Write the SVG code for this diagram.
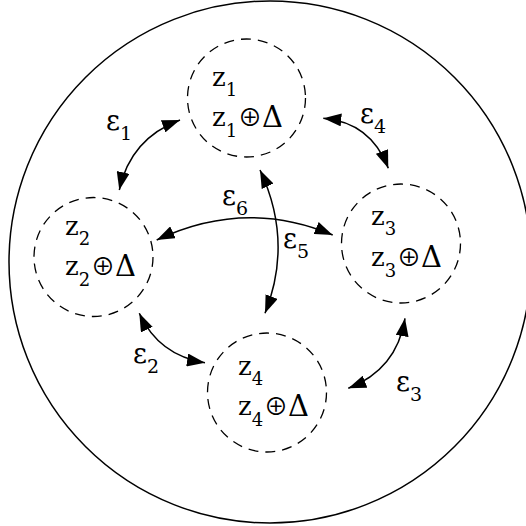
<svg xmlns="http://www.w3.org/2000/svg" width="526" height="526" viewBox="0 0 526 526">
<defs>
<style>
.outer{fill:none;stroke:#000;stroke-width:1.5}
.node{fill:none;stroke:#000;stroke-width:1.3;stroke-dasharray:10 7}
.c{fill:none;stroke:#000;stroke-width:1.5;marker-start:url(#ah);marker-end:url(#ah)}
.op{font-family:"Noto Sans CJK JP","DejaVu Sans",sans-serif;font-size:24px}
</style>
<marker id="ah" markerUnits="userSpaceOnUse" viewBox="0 0 18 13" refX="18" refY="6.5" markerWidth="18" markerHeight="13" orient="auto-start-reverse">
<path d="M0,0 L18,6.5 L0,13 z" fill="#000"/>
</marker>
</defs>
<rect width="526" height="526" fill="#fff"/>
<circle class="outer" cx="270" cy="262" r="261"/>
<g id="node1" font-family="DejaVu Serif, Liberation Serif, serif" font-size="26" fill="#000">
<circle class="node" cx="246.5" cy="98" r="59"/>
<text x="212" y="86">z<tspan font-size="18" dy="10">1</tspan></text>
<text x="212" y="126">z<tspan font-size="18" dy="11">1</tspan></text>
<text class="op" x="238" y="126">⊕</text>
<text x="262" y="127" font-size="29">Δ</text>
</g>
<g id="node2" font-family="DejaVu Serif, Liberation Serif, serif" font-size="26" fill="#000">
<circle class="node" cx="93.5" cy="257" r="59.5"/>
<text x="65" y="235">z<tspan font-size="18" dy="10">2</tspan></text>
<text x="65" y="275">z<tspan font-size="18" dy="11">2</tspan></text>
<text class="op" x="91" y="275">⊕</text>
<text x="115" y="276" font-size="29">Δ</text>
</g>
<g id="node3" font-family="DejaVu Serif, Liberation Serif, serif" font-size="26" fill="#000">
<circle class="node" cx="401" cy="243.5" r="59.5"/>
<text x="371" y="225">z<tspan font-size="18" dy="10">3</tspan></text>
<text x="371" y="266">z<tspan font-size="18" dy="11">3</tspan></text>
<text class="op" x="397" y="266">⊕</text>
<text x="421" y="267" font-size="29">Δ</text>
</g>
<g id="node4" font-family="DejaVu Serif, Liberation Serif, serif" font-size="26" fill="#000">
<circle class="node" cx="267" cy="392.5" r="59.5"/>
<text x="238" y="375">z<tspan font-size="18" dy="10">4</tspan></text>
<text x="238" y="415">z<tspan font-size="18" dy="11">4</tspan></text>
<text class="op" x="264" y="415">⊕</text>
<text x="288" y="416" font-size="29">Δ</text>
</g>
<g id="connectors">
<path class="c" d="M180,120 Q130.5,138.4 119.3,190"/>
<path class="c" d="M323.3,118.3 Q371,122.5 388.3,168.3"/>
<path class="c" d="M156.7,240 Q245,198 332.7,235"/>
<path class="c" d="M260,170 Q293.5,241.5 265,313.3"/>
<path class="c" d="M139.3,313.3 Q158.8,355.6 205,362.7"/>
<path class="c" d="M405,318.3 Q396.8,369.4 348.3,388.3"/>
</g>
<g id="labels" font-family="DejaVu Serif, Liberation Serif, serif" font-size="27" fill="#000">
<text x="106" y="130">ε<tspan font-size="19" dy="10">1</tspan></text>
<text x="133" y="363">ε<tspan font-size="19" dy="10">2</tspan></text>
<text x="396" y="391">ε<tspan font-size="19" dy="10">3</tspan></text>
<text x="360" y="123">ε<tspan font-size="19" dy="10">4</tspan></text>
<text x="283" y="248">ε<tspan font-size="19" dy="10">5</tspan></text>
<text x="222" y="205">ε<tspan font-size="19" dy="10">6</tspan></text>
</g>
</svg>
